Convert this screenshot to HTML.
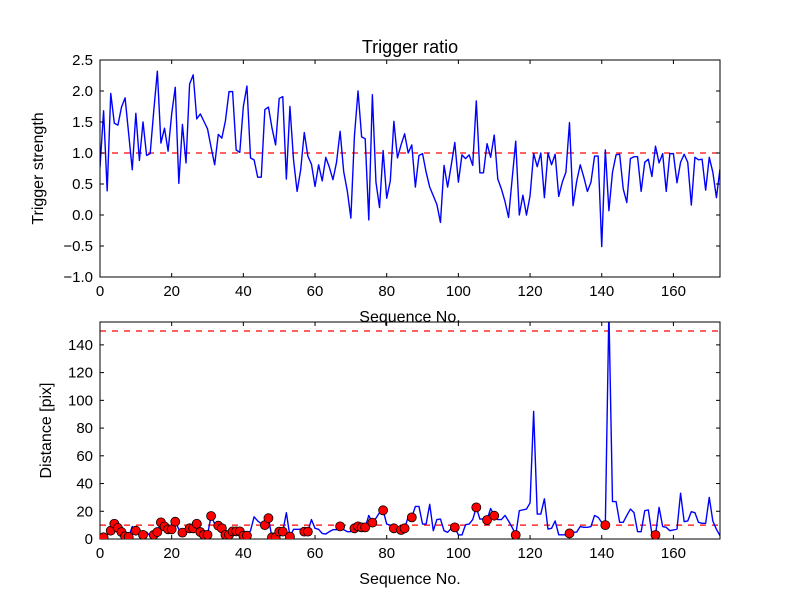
<!DOCTYPE html>
<html><head><meta charset="utf-8">
<style>
html,body{margin:0;padding:0;background:#fff;}
svg{display:block;font-family:"Liberation Sans","DejaVu Sans",sans-serif;}
</style></head>
<body>
<svg id="chart" width="800" height="600" viewBox="0 0 800 600" xmlns="http://www.w3.org/2000/svg">
<rect width="800" height="600" fill="#fff"/>
<defs>
<clipPath id="c1"><rect x="100" y="60" width="620" height="217"/></clipPath>
<clipPath id="c2"><rect x="100" y="322" width="620" height="217"/></clipPath>
</defs>
<text x="410" y="53" font-size="18" text-anchor="middle">Trigger ratio</text>
<g id="top"></g>
<g id="bot"></g>
</svg>
<script>
const strength = [0.77,1.68,0.39,1.96,1.48,1.45,1.74,1.89,1.31,0.73,1.64,0.88,1.5,0.96,0.99,1.68,2.32,1.16,1.4,1.03,1.63,2.06,0.51,1.46,0.84,2.11,2.26,1.55,1.63,1.51,1.39,1.09,0.81,1.3,1.24,1.52,1.99,1.99,1.05,1.01,1.75,2.08,0.92,0.89,0.61,0.61,1.7,1.74,1.4,1.13,1.88,1.91,0.58,1.75,0.89,0.38,0.73,1.33,0.95,0.82,0.46,0.81,0.55,0.93,0.77,0.57,0.85,1.35,0.7,0.39,-0.05,1.28,2.0,1.26,1.23,-0.08,1.94,0.53,0.12,1.04,0.27,0.55,1.51,0.92,1.13,1.31,1.0,1.13,0.45,0.96,0.99,0.69,0.45,0.31,0.17,-0.12,0.8,0.45,0.8,1.17,0.53,0.97,0.91,0.97,0.8,1.84,0.68,0.68,1.15,0.93,1.29,0.58,0.42,0.22,-0.04,0.58,1.19,0.0,0.32,0.0,0.31,0.99,0.78,1.0,0.28,1.0,0.81,0.98,0.3,0.53,0.69,1.49,0.15,0.54,0.81,0.61,0.38,0.53,0.95,0.95,-0.51,1.05,0.07,0.69,0.97,0.98,0.42,0.2,0.91,0.94,0.94,0.38,0.85,0.9,0.62,1.11,0.84,0.99,0.38,0.99,0.99,0.52,0.85,0.98,0.85,0.16,0.93,0.89,0.9,0.4,0.93,0.69,0.28,0.74];
const distance = [2,1.2,3,6,11,8,5,2,1.5,9,6,3,3,5,2,3,5,12,9,7,7,12.5,7,4.6,8,7.7,7.7,11,5,3,3,16.6,11,9.6,7.7,3,3,5.5,5.5,5.5,2.4,2.4,6,16,13,11,10,15,1.2,1.2,5.3,5.3,19,1.7,7,7,7,5.3,5.3,14,7.7,7,4,3.6,5.3,6.7,6.7,9.1,6.7,5.3,5.3,7.7,9.1,8.4,8.4,17,11.8,15,19,20.7,10.8,10,7.7,8.4,6.5,7.7,16,15.6,23.5,23.5,10.8,10.8,25,6,14,14.4,6,4.8,7.7,8.4,2.9,2.9,10.3,10.8,14,22.8,14.4,14.4,13.7,22,16.8,14,14,17,13,8.4,2.9,20.4,21,21.6,26,92,18,18,29,7.2,7.7,13,3,3,3,4,4.8,5,9,8.4,8.4,9,17,15.6,12,10,165,27,27,12,12,17,21.6,19,5.3,5.3,20.4,21,3.6,2.9,22.8,9,8.4,6,6.5,7.2,33,12.5,13,19.7,19,12,11.3,11.3,30,13,7,2.4];
const markerIdx = [1,3,4,5,6,7,8,10,12,15,16,17,18,19,20,21,23,25,26,27,28,29,30,31,33,34,35,36,37,38,39,40,41,46,47,48,49,50,51,53,57,58,67,71,72,73,74,76,79,82,84,85,87,99,105,108,110,116,131,141,155];
const xTicks = [0,20,40,60,80,100,120,140,160];
const yTicksTop = [2.5,2.0,1.5,1.0,0.5,0.0,-0.5,-1.0];
const yTicksBot = [0,20,40,60,80,100,120,140];
const thrTop = [1.0];
const thrBot = [10,150];

const NS="http://www.w3.org/2000/svg";
function mk(parent,tag,attrs){const e=document.createElementNS(NS,tag);for(const k in attrs)e.setAttribute(k,attrs[k]);parent.appendChild(e);return e;}
const X0=100,X1=720,XMAX=173;
const sx=v=>X0+v*(X1-X0)/XMAX;
function fmtTop(v){const s=Math.abs(v).toFixed(1);return (v<0?"\u2212":"")+s;}

function panel(g,y0,y1,ymin,ymax,ticks,fmt,ylabel,ylabX,clip,vals,thr){
  const sy=v=>y1-(v-ymin)*(y1-y0)/(ymax-ymin);
  // thresholds
  thr.forEach(t=>{
    const l=mk(g,'line',{x1:X0,x2:X1,y1:sy(t),y2:sy(t),stroke:'#ff0000','stroke-width':1.2,'stroke-dasharray':'6,6','clip-path':'url(#'+clip+')'});
    
    
  });
  const pts=vals.map((v,i)=>sx(i).toFixed(2)+','+sy(v).toFixed(2)).join(' ');
  const pl=mk(g,'polyline',{points:pts,fill:'none',stroke:'#0000ff','stroke-width':1.4,'stroke-linejoin':'round','clip-path':'url(#'+clip+')'});
  
  
  // frame
  const fr=mk(g,'rect',{x:X0,y:y0,width:X1-X0,height:y1-y0,fill:'none',stroke:'#000','stroke-width':1});
  
  
  xTicks.forEach(t=>{
    const x=sx(t);
    mk(g,'line',{x1:x,x2:x,y1:y1,y2:y1-4,stroke:'#000'});
    mk(g,'line',{x1:x,x2:x,y1:y0,y2:y0+4,stroke:'#000'});
    const tx=mk(g,'text',{x:x,y:y1+19,'font-size':15,'text-anchor':'middle'});
    tx.textContent=t;
    
    
  });
  ticks.forEach(t=>{
    const y=sy(t);
    mk(g,'line',{x1:X0,x2:X0+4,y1:y,y2:y,stroke:'#000'});
    mk(g,'line',{x1:X1,x2:X1-4,y1:y,y2:y,stroke:'#000'});
    const tx=mk(g,'text',{x:X0-7,y:y+5,'font-size':15,'text-anchor':'end'});
    tx.textContent=fmt(t);
    
    
  });
  const xl=mk(g,'text',{x:410,y:y1+45,'font-size':16,'text-anchor':'middle'});
  xl.textContent='Sequence No.';
  
  
  const yc=(y0+y1)/2;
  const yl=mk(g,'text',{x:ylabX,y:yc,'font-size':16,'text-anchor':'middle',transform:'rotate(-90 '+ylabX+' '+yc+')'});
  yl.textContent=ylabel;
  
  
  return sy;
}
const gt=document.getElementById('top'), gb=document.getElementById('bot');
panel(gt,60,277,-1.0,2.5,yTicksTop,fmtTop,'Trigger strength',43,'c1',strength,thrTop);
const syb=panel(gb,322,539,0,156.5,yTicksBot,v=>String(v),'Distance [pix]',51,'c2',distance,thrBot);
markerIdx.forEach(i=>{
  const c=mk(gb,'circle',{cx:sx(i),cy:syb(distance[i]),r:4.5,fill:'#ff0000',stroke:'#000','stroke-width':0.8,'clip-path':'url(#c2)'});
  
  
});
</script>
</body></html>
